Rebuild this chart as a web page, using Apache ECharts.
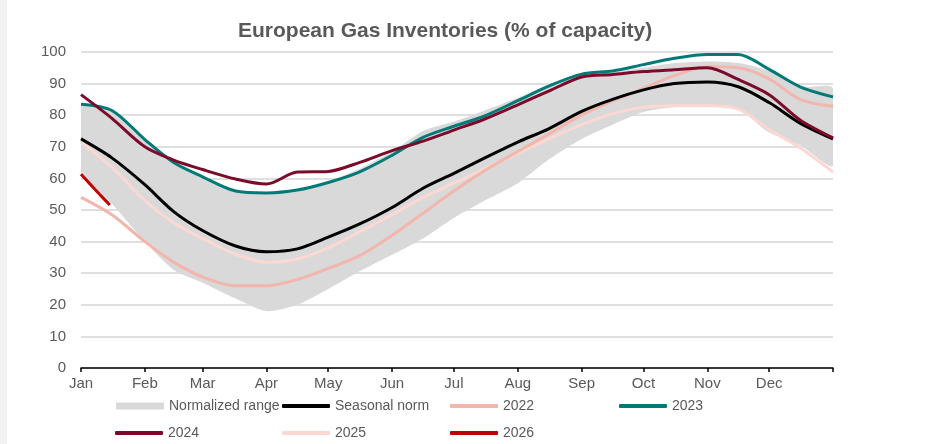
<!DOCTYPE html>
<html>
<head>
<meta charset="utf-8">
<title>European Gas Inventories</title>
<script src="https://cdn.jsdelivr.net/npm/echarts@6/dist/echarts.min.js"></script>
<style>
  html, body { margin: 0; padding: 0; background: #fff; }
  #chart { width: 940px; height: 444px; }
</style>
</head>
<body>
<div id="chart"></div>
<script>
// day of year for each reading
const days = [0, 15, 31, 45, 59, 75, 90, 105, 120, 135, 151, 166, 181, 196, 212, 227, 243, 258, 273, 288, 304, 319, 334, 349, 365];

const rangeLow = [62, 52, 40, 31, 27, 22, 18, 20, 25, 30.5, 35.8, 41, 47.5, 53, 58.5, 66, 72.5, 77, 81, 82.5, 83, 82, 74.5, 70.5, 64];
const rangeHigh = [83, 81, 72.5, 65.5, 60, 56, 55, 56, 59, 63, 68.5, 75, 78, 81.5, 85.5, 89.5, 92, 93.5, 95, 96.5, 97, 96.5, 94, 89, 88.5];

const seasonalNorm = [72.5, 66.5, 58, 49.5, 43.5, 38.6, 36.8, 37.7, 41.4, 45.5, 50.8, 56.9, 61.6, 66.5, 71.5, 75.7, 81.2, 85, 88, 90, 90.5, 89, 84, 77.5, 72.5];
const y2022 = [54, 48.5, 40, 33.5, 28.8, 26, 26, 28, 31.5, 35.5, 42, 49, 56, 62.5, 68.5, 74, 80, 84.5, 88.5, 92.5, 95.3, 95, 91.5, 85, 82.8];
const y2023 = [83.5, 81.5, 72.3, 65, 60.5, 56, 55.4, 56.3, 58.7, 62, 67.3, 73, 76.5, 79.8, 84.6, 89.2, 93, 94, 96, 98, 99.2, 99.2, 94.5, 89, 85.8];
const y2024 = [86.5, 79, 70, 65.8, 62.8, 59.8, 58.2, 62, 62.2, 65, 68.8, 71.8, 75.3, 78.8, 83.3, 87.6, 92.1, 92.9, 93.8, 94.4, 95, 91.3, 86.5, 78.5, 72.8];
const y2025 = [71.5, 63.5, 53, 46, 41, 36, 33.5, 34.5, 38, 43, 48.5, 54, 58.5, 63, 68, 72.5, 77, 80.5, 82.5, 83, 83, 82, 75.5, 69.7, 62];

const days2026 = [0, 4, 9, 14];
const y2026 = [61.3, 58.5, 55, 51.6];

const monthStarts = [0, 31, 59, 90, 120, 151, 181, 212, 243, 273, 304, 334];
const monthNames = ['Jan', 'Feb', 'Mar', 'Apr', 'May', 'Jun', 'Jul', 'Aug', 'Sep', 'Oct', 'Nov', 'Dec'];

const FONT = '"Liberation Sans", Arial, sans-serif';
const TXT = '#595959';
const GREY = '#d9d9d9';

const colors = {
    'Seasonal norm': '#000000',
    '2022': '#f2b6ad',
    '2023': '#007a76',
    '2024': '#7b0a2b',
    '2025': '#fcd8d3',
    '2026': '#c00000'
};

const pairs = (xs, ys) => xs.map((x, i) => [x, ys[i]]);

const lineSeries = (name, ys, z, xs = days) => ({
    name: name,
    type: 'line',
    data: pairs(xs, ys),
    smooth: 0.3,
    showSymbol: false,
    symbol: 'none',
    lineStyle: { color: colors[name], width: 3 },
    itemStyle: { color: colors[name] },
    z: z
});

// one legend per entry so the two rows line up like the original
const legendItem = (name, left, top) => ({
    left: left,
    top: top,
    selectedMode: false,
    itemWidth: 48,
    itemHeight: name === 'Normalized range' ? 7 : 4,
    textStyle: { fontFamily: FONT, fontSize: 14, color: TXT },
    data: [{
        name: name,
        icon: name === 'Normalized range' ? 'rect' : 'roundRect',
        itemStyle: { color: name === 'Normalized range' ? GREY : colors[name], borderWidth: 0 }
    }]
});

const chart = echarts.init(document.getElementById('chart'));

const option = {
    animation: false,
    backgroundColor: '#fff',
    title: {
        text: 'European Gas Inventories (% of capacity)',
        left: 233,
        top: 16,
        textStyle: { fontFamily: FONT, fontSize: 21, fontWeight: 'bold', color: TXT }
    },
    graphic: [{
        type: 'rect',
        shape: { x: 0, y: 0, width: 7, height: 444 },
        style: { fill: '#f2f2f2' },
        silent: true
    }],
    grid: { left: 81, right: 107, top: 52, bottom: 76 },
    legend: [
        legendItem('Normalized range', 111, 394),
        legendItem('Seasonal norm', 277, 394),
        legendItem('2022', 445, 394),
        legendItem('2023', 614, 394),
        legendItem('2024', 110, 421),
        legendItem('2025', 277, 421),
        legendItem('2026', 445, 421)
    ],
    xAxis: {
        type: 'value',
        min: 0,
        max: 365,
        axisLine: { show: true, lineStyle: { color: '#000', width: 1.5 } },
        axisTick: { show: true, customValues: monthStarts.concat([365]), length: 4, lineStyle: { color: '#000', width: 1.5 } },
        axisLabel: {
            customValues: monthStarts,
            formatter: v => monthNames[monthStarts.indexOf(v)] || '',
            fontFamily: FONT, fontSize: 15, color: TXT, margin: 8
        },
        splitLine: { show: false }
    },
    yAxis: {
        type: 'value',
        min: 0,
        max: 100,
        interval: 10,
        axisLine: { show: false },
        axisTick: { show: false },
        axisLabel: { fontFamily: FONT, fontSize: 15, color: TXT, margin: 15 },
        splitLine: { lineStyle: { color: '#d4d4d4', width: 1.5 } }
    },
    series: [
        {
            name: 'Normalized range',
            type: 'custom',
            data: [0],
            clip: true,
            z: 1,
            itemStyle: { color: GREY },
            renderItem: (params, api) => {
                const top = days.map((d, i) => api.coord([d, rangeHigh[i]]));
                const bottom = days.map((d, i) => api.coord([d, rangeLow[i]])).reverse();
                return {
                    type: 'polygon',
                    shape: { points: top.concat(bottom), smooth: 0.25 },
                    style: { fill: GREY }
                };
            }
        },
        lineSeries('2025', y2025, 2),
        lineSeries('2022', y2022, 3),
        lineSeries('Seasonal norm', seasonalNorm, 4),
        lineSeries('2023', y2023, 5),
        lineSeries('2024', y2024, 6),
        lineSeries('2026', y2026, 7, days2026)
    ]
};

chart.setOption(option);
</script>
</body>
</html>
